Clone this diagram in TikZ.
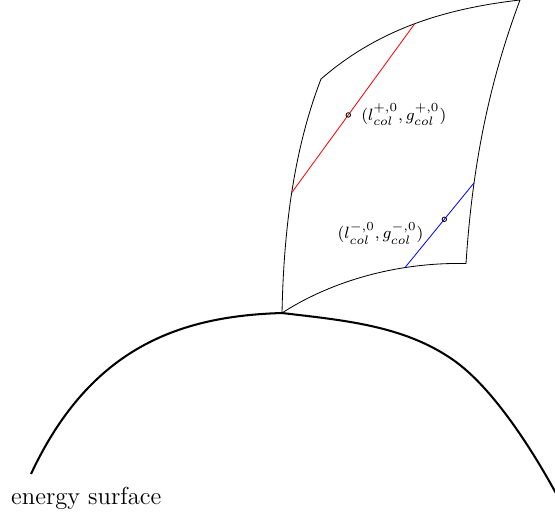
\documentclass[tikz,border=0pt]{standalone}
\usepackage{amsmath}
\usetikzlibrary{positioning}

\begin{document}
\begin{tikzpicture}[
    x=0.4878pt, y=-0.4878pt,
    sheet/.style={draw, thin},
    surf/.style={draw, line width=1pt},
    probe/.style={circle, draw=black, inner sep=0pt, minimum size=2.2pt},
    lbl/.style={font=\footnotesize, inner sep=3.33pt}
]
    \useasboundingbox (0,0) rectangle (555,516);

    % corners of the sheet
    \coordinate (base) at (282,313);
    \coordinate (tl) at (321,79);
    \coordinate (tr) at (520,0);
    \coordinate (br) at (466,263.5);

    % sheet, with the ends of the two lines on its edges
    \path[sheet] (base) .. controls (284,213) and (297.9,139) .. (tl) coordinate[pos=0.45] (redA)
        .. controls (381,26.8) and (450,8.1) .. (tr) coordinate[pos=0.49] (redB)
        .. controls (490,80) and (472.4,163) .. (br) coordinate[pos=0.72] (blueB)
        .. controls (390,262) and (325,285) .. (base) coordinate[pos=0.28] (blueA);

    \draw[red] (redA) -- (redB) node[probe, pos=0.46] (dotP) {};
    \draw[blue] (blueA) -- (blueB) node[probe, pos=0.57] (dotM) {};

    \node[lbl, right=1.5pt of dotP] (lblP) {$(l^{+,0}_{col},g^{+,0}_{col})$};
    \node[lbl, left=5.4pt of dotM, yshift=-7pt] (lblM) {$(l^{-,0}_{col},g^{-,0}_{col})$};

    % energy surface
    \draw[surf] (31,474) .. controls (91,345.6) and (182,316) .. (base)
        .. controls (342,320.2) and (403.3,325) .. (453.3,360)
        .. controls (493.3,388) and (533,450.75) .. (558,497);
    \node[font=\large, anchor=north west] (surfLbl) at (4,479.5) {energy surface};
\end{tikzpicture}
\end{document}
